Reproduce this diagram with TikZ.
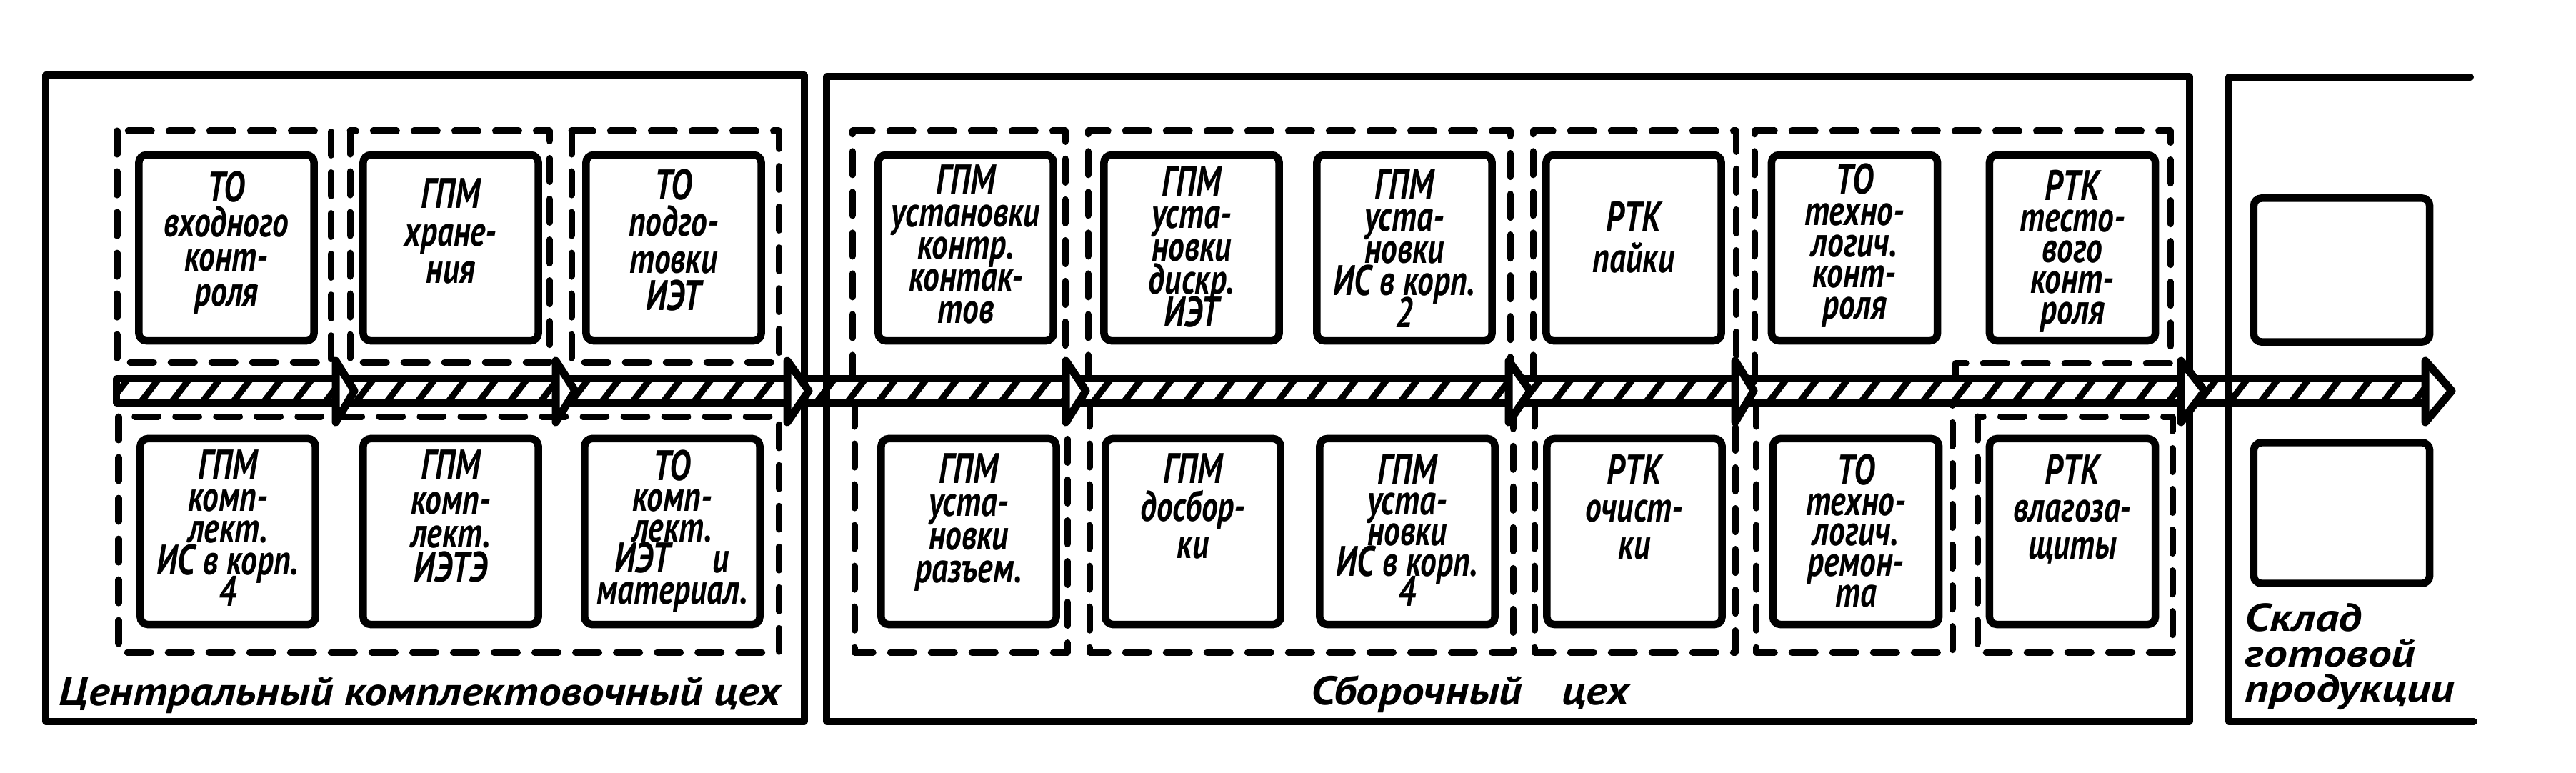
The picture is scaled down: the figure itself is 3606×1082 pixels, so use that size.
\documentclass[tikz,border=0pt]{standalone}
\usepackage{fontspec}
\usepackage{graphicx}
\newfontfamily\hand{PT Sans}[FakeStretch=0.76]
\newfontfamily\handw{PT Sans}[FakeStretch=1.12]
\newfontfamily\handc{PT Sans}[FakeStretch=1.2]
\usetikzlibrary{calc}
% text block inside a unit box: [top offset]{baselineskip}{lines}
\newcommand{\ut}[3][0.1cm]{\parbox[c][2.45cm][t]{2.3cm}{\centering\hand\bfseries\itshape\fontsize{17}{#2}\selectfont\lineskiplimit=-100pt\relax\vspace*{#1}#3}}
\newcommand{\wl}[1]{\makebox[\linewidth]{#1}}
\begin{document}
\begin{tikzpicture}[x=0.01cm, y=-0.01cm,
  wall/.style={line width=1mm, line cap=round, line join=round},
  grp/.style={line width=0.9mm, dash pattern=on 3.3mm off 2.4mm, line cap=round, line join=round},
  unit/.style={draw, line width=1.05mm, rounded corners=3pt, inner sep=0pt, minimum width=2.45cm, minimum height=2.6cm},
  narrow/.style={minimum width=2.32cm},
  bandline/.style={line width=0.95mm, line join=round},
  hatch/.style={line width=0.9mm},
  head/.style={draw, fill=white, line width=1.1mm, line join=round},
  lbl/.style={font=\handw\bfseries\itshape\fontsize{16}{14}\selectfont, inner sep=0pt}
]
\useasboundingbox[fill=white] (0,0) rectangle (3606,1082);

% ---- dashed groups ----
% central shop, top row
\draw[grp] (164,183) rectangle (463,507);
\draw[grp] (490,183) rectangle (769,507);
\draw[grp] (800,183) rectangle (1090,507);
% central shop, bottom row
\draw[grp] (166,583) rectangle (1090,913);
% assembly shop, top row
\draw[grp] (1193,530) -- (1193,183) -- (1491,183) -- (1491,530);
\draw[grp] (1523,530) -- (1523,183) -- (2114,183) -- (2114,530);
\draw[grp] (2146,530) -- (2146,183) -- (2430,183) -- (2430,530);
\draw[grp] (2456,530) -- (2456,183) -- (3038,183) -- (3038,508) -- (2737,508) -- (2737,530);
% assembly shop, bottom row
\draw[grp] (1196,564) -- (1196,913) -- (1494,913) -- (1494,564);
\draw[grp] (1525,564) -- (1525,913) -- (2118,913) -- (2118,564);
\draw[grp] (2148,564) -- (2148,913) -- (2429,913) -- (2429,564);
\draw[grp] (2458,564) -- (2458,913) -- (2733,913) -- (2733,564);
\draw[grp] (2768,583) rectangle (3041,913);

% ---- conveyor band ----
\coordinate (bandL) at (163,547);
\coordinate (bandR) at (3395,547);
\begin{scope}
  \clip (163,530) rectangle (3395,564);
  \foreach \i in {0,...,76} \draw[hatch] ({150+\i*43},568) -- ++(31,-40);
\end{scope}
\draw[bandline] (3395,530) -- (163,530) -- (163,564) -- (3395,564);

% ---- shop walls ----
\draw[wall] (64,105) rectangle (1126,1010);
\draw[wall] (1157,107) rectangle (3065,1010);
\draw[wall] (3458,108) -- (3120,108) -- (3120,1010) -- (3463,1010);

% ---- arrow heads on the band ----
\foreach \x/\n/\l in {470/h1/26, 778/h2/27, 1102/h3/30, 1492/h4/28, 2112/h5/30, 2429/h6/26, 3053/h7/33, 3395/h8/37} {
  \coordinate (\n) at ({\x+\l},547);
  \draw[head] (\x,505) -- (\n) -- (\x,591) -- cycle;
}

% ---- units ----
\node[unit] (u1) at (317,347) {\ut[0.15cm]{13.9}{ТО\\входного\\конт-\\роля}};
\node[unit] (u2) at (631,347) {\ut[0.25cm]{15}{ГПМ\\хране-\\ния}};
\node[unit] (u3) at (943,347) {\ut[0.12cm]{14.7}{ТО\\подго-\\товки\\ИЭТ}};
\node[unit] (u7) at (1352,347) {\ut[0.06cm]{12.8}{ГПМ\\\wl{установки}\\контр.\\контак-\\тов}};
\node[unit] (u8) at (1668,347) {\ut[0.08cm]{13}{ГПМ\\уста-\\новки\\дискр.\\ИЭТ}};
\node[unit] (u9) at (1966,347) {\ut[0.12cm]{12.8}{ГПМ\\уста-\\новки\\\wl{ИС в корп.}\\2}};
\node[unit] (u10) at (2287,347) {\ut[0.58cm]{16}{РТК\\пайки}};
\node[unit, narrow] (u11) at (2596,347) {\ut[0.04cm]{12.5}{ТО\\техно-\\логич.\\конт-\\роля}};
\node[unit, narrow] (u12) at (2901,347) {\ut[0.14cm]{12.3}{РТК\\тесто-\\вого\\конт-\\роля}};

\node[unit] (u4) at (319,744) {\ut[0.08cm]{12.6}{ГПМ\\комп-\\лект.\\\wl{ИС в корп.}\\4}};
\node[unit] (u5) at (631,744) {\ut[0.08cm]{13.6}{ГПМ\\комп-\\лект.\\ИЭТЭ}};
\node[unit] (u6) at (941,744) {\ut[0.08cm]{12.3}{ТО\\комп-\\лект.\\ИЭТ\quad и\\\wl{материал.}}};
\node[unit] (u13) at (1356,744) {\ut[0.13cm]{13.2}{ГПМ\\уста-\\новки\\разъем.}};
\node[unit] (u14) at (1670,744) {\ut[0.13cm]{15}{ГПМ\\досбор-\\ки}};
\node[unit] (u15) at (1970,744) {\ut[0.14cm]{12.2}{ГПМ\\уста-\\новки\\\wl{ИС в корп.}\\4}};
\node[unit] (u16) at (2288,744) {\ut[0.15cm]{14.7}{РТК\\очист-\\ки}};
\node[unit, narrow] (u17) at (2598,744) {\ut[0.14cm]{12.2}{ТО\\техно-\\логич.\\ремон-\\та}};
\node[unit, narrow] (u18) at (2901,744) {\ut[0.15cm]{14.7}{РТК\\влагоза-\\щиты}};

% finished goods store
\node[unit, minimum width=2.46cm, minimum height=2.01cm] (s1) at (3278,378) {};
\node[unit, minimum width=2.46cm, minimum height=1.97cm] (s2) at (3278,718) {};

% ---- shop labels ----
\node[lbl, anchor=base] (labA) at (588,987) {Центральный комплектовочный цех};
\node[lbl, anchor=base] (labB) at (2058,986) {Сборочный\quad цех};
\node[anchor=north west, inner sep=0pt] (labC) at (3142,844) {\parbox[t]{3.4cm}{\raggedright\handc\bfseries\itshape\fontsize{15.5}{14}\selectfont\lineskiplimit=-100pt\relax Склад\\готовой\\продукции}};
\end{tikzpicture}
\end{document}
